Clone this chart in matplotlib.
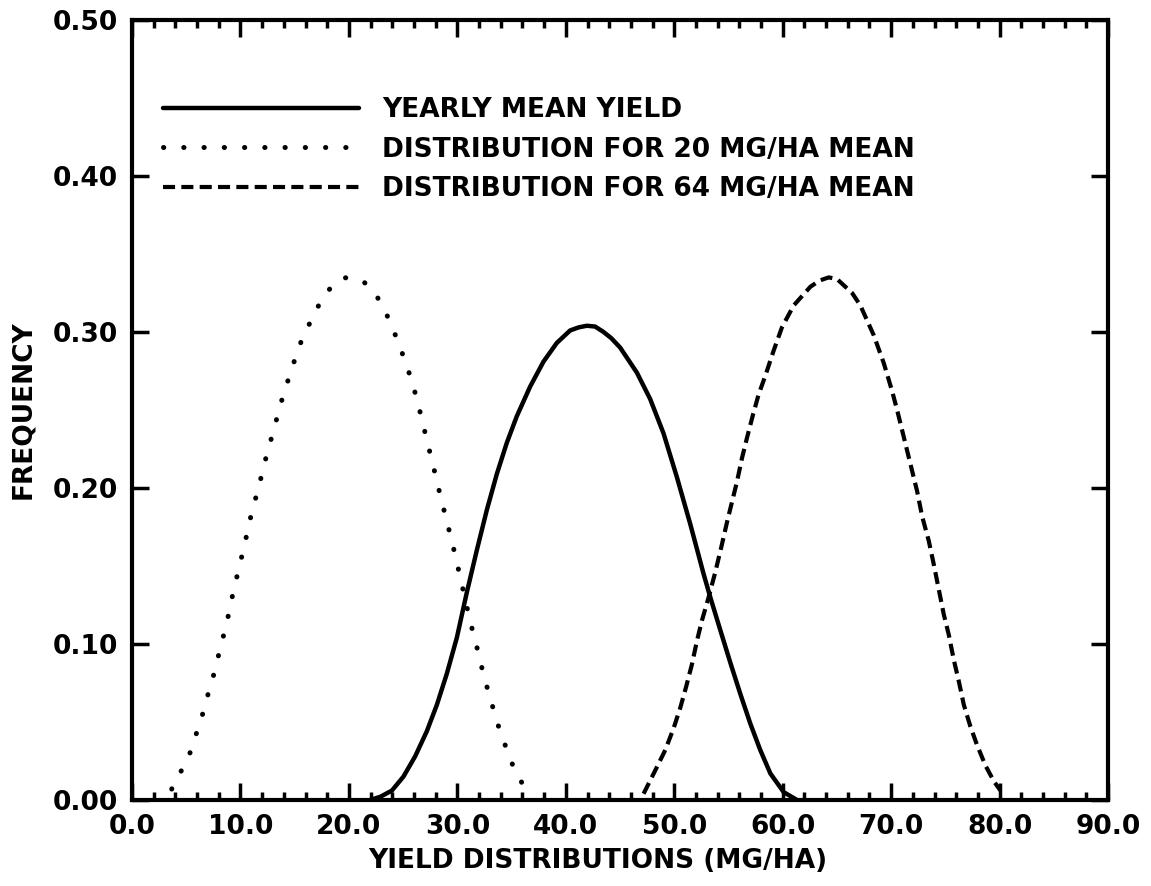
import numpy as np
import matplotlib
matplotlib.use("Agg")
import matplotlib.pyplot as plt
from matplotlib.ticker import MultipleLocator, FormatStrFormatter

# yearly mean yield (solid)
mean_x = [21.96, 22.88, 23.96, 25.03, 26.11, 27.18, 28.11, 29.03, 29.95, 30.87, 31.79, 32.72,
          33.64, 34.56, 35.48, 36.71, 37.94, 39.17, 40.40, 41.20, 41.94, 42.70, 43.48, 44.20,
          45.01, 46.55, 47.78, 49.01, 50.24, 51.47, 52.70, 53.32, 54.24, 55.17, 56.09, 57.01,
          57.93, 58.86, 60.09, 61.32]
mean_y = [0.000, 0.002, 0.006, 0.015, 0.028, 0.044, 0.061, 0.081, 0.104, 0.133, 0.160, 0.186,
          0.209, 0.229, 0.246, 0.265, 0.281, 0.293, 0.301, 0.303, 0.304, 0.3035, 0.300, 0.296,
          0.290, 0.274, 0.257, 0.235, 0.207, 0.177, 0.145, 0.130, 0.109, 0.088, 0.068, 0.049,
          0.032, 0.017, 0.005, 0.000]

# distribution for 20 Mg/ha mean (dotted)
low_x = [3.66, 4.49, 5.29, 5.81, 6.43, 6.89, 7.41, 7.81, 8.27, 8.73, 9.10, 9.50, 9.90, 10.33,
         10.73, 11.13, 11.59, 12.05, 12.48, 12.98, 13.44, 13.96, 14.48, 15.04, 15.65, 16.48,
         17.28, 18.27, 19.00, 19.80, 20.60, 21.40, 22.57, 23.43, 24.17, 24.78, 25.40, 25.95,
         26.41, 26.87, 27.27, 27.73, 28.10, 28.56, 28.96, 29.43, 29.86, 30.26, 31.03, 31.49,
         31.95, 32.35, 32.87, 33.33, 33.89, 34.47, 35.12, 35.95]
low_y = [0.007, 0.018, 0.029, 0.040, 0.053, 0.065, 0.077, 0.088, 0.101, 0.113, 0.126, 0.138,
         0.150, 0.162, 0.175, 0.187, 0.198, 0.211, 0.223, 0.235, 0.247, 0.260, 0.271, 0.283,
         0.295, 0.307, 0.318, 0.328, 0.333, 0.335, 0.334, 0.332, 0.323, 0.312, 0.300, 0.289,
         0.277, 0.265, 0.253, 0.240, 0.228, 0.216, 0.204, 0.192, 0.180, 0.168, 0.155, 0.143,
         0.119, 0.106, 0.094, 0.082, 0.069, 0.058, 0.045, 0.034, 0.022, 0.011]

# distribution for 64 Mg/ha mean (dashed)
high_x = [47.17, 48.25, 49.17, 49.94, 50.55, 51.11, 51.63, 52.09, 52.55, 53.17, 53.78, 54.40,
          54.86, 55.32, 55.78, 56.24, 56.70, 57.26, 57.78, 58.40, 59.16, 59.93, 61.01, 62.55,
          63.40, 64.24, 65.00, 65.62, 66.40, 67.16, 68.39, 69.32, 70.09, 70.55, 71.01, 71.47,
          71.93, 72.39, 72.85, 73.47, 73.93, 74.39, 74.85, 75.31, 75.77, 76.24, 76.70, 77.31,
          77.93, 78.70, 79.47, 80.08]
high_y = [0.004, 0.019, 0.032, 0.046, 0.059, 0.073, 0.087, 0.102, 0.115, 0.130, 0.146, 0.164,
          0.178, 0.191, 0.204, 0.219, 0.232, 0.247, 0.260, 0.272, 0.288, 0.303, 0.317, 0.329,
          0.333, 0.335, 0.334, 0.330, 0.325, 0.317, 0.298, 0.280, 0.262, 0.250, 0.237, 0.224,
          0.211, 0.198, 0.182, 0.166, 0.151, 0.135, 0.119, 0.106, 0.090, 0.076, 0.061, 0.047,
          0.035, 0.022, 0.012, 0.006]

labels = ["YEARLY MEAN YIELD", "DISTRIBUTION FOR 20 MG/HA MEAN", "DISTRIBUTION FOR 64 MG/HA MEAN"]

plt.rcParams['font.family'] = 'DejaVu Sans'
plt.rcParams['font.weight'] = 'bold'

fig = plt.figure(figsize=(11.51, 8.86), dpi=100)
ax = fig.add_axes([0.1147, 0.0971, 0.8480, 0.8803])

ax.plot(mean_x, mean_y, color='black', lw=3.2, solid_capstyle='round',
        solid_joinstyle='round', label=labels[0])
ax.plot(low_x, low_y, color='black', lw=3.6, linestyle=(0, (0.05, 4.0)),
        dash_capstyle='round', label=labels[1])
ax.plot(high_x, high_y, color='black', lw=3, linestyle=(0, (2.9, 1.5)), label=labels[2])

ax.set_xlim(0, 90)
ax.set_ylim(0, 0.5)
ax.xaxis.set_major_locator(MultipleLocator(10))
ax.xaxis.set_minor_locator(MultipleLocator(2))
ax.yaxis.set_major_locator(MultipleLocator(0.1))
ax.xaxis.set_major_formatter(FormatStrFormatter('%.1f'))
ax.yaxis.set_major_formatter(FormatStrFormatter('%.2f'))

ax.tick_params(which='both', direction='in', top=True, right=True, width=2.5,
               labelsize=19, pad=10)
ax.tick_params(which='major', length=12)
ax.tick_params(which='minor', length=6)
for s in ax.spines.values():
    s.set_linewidth(3)

ax.set_xlabel("YIELD DISTRIBUTIONS (MG/HA)", fontsize=19, fontweight='bold')
ax.xaxis.set_label_coords(0.477, -0.062)
ax.set_ylabel("FREQUENCY", fontsize=19, fontweight='bold', labelpad=12)

ax.legend(loc='upper left', bbox_to_anchor=(0.007, 0.932), frameon=False, fontsize=19,
          handlelength=7.45, handletextpad=0.87, labelspacing=0.52)

fig.savefig("out.png", dpi=100)
